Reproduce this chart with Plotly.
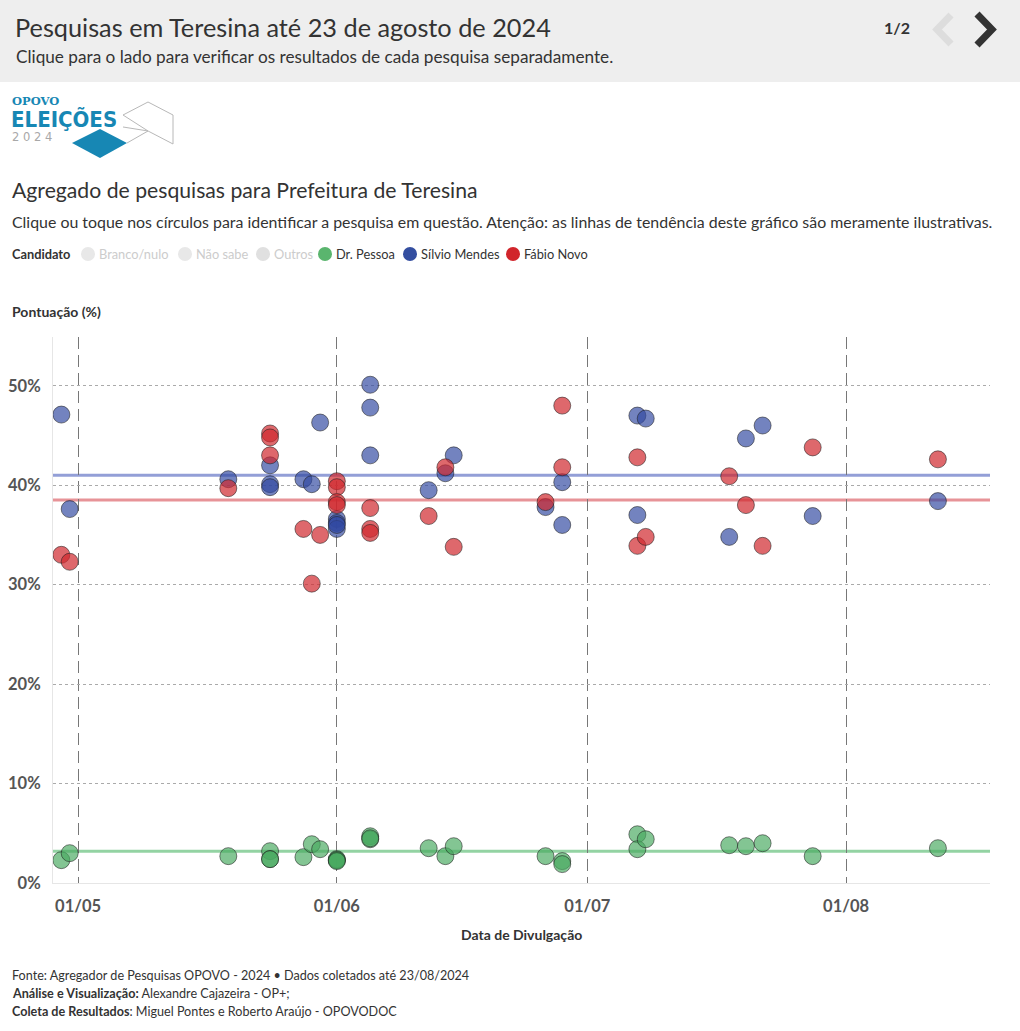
import plotly.graph_objects as go

# ---------------- DATA ----------------
dates = [
    "2024-04-29", "2024-04-30", "2024-05-19", "2024-05-24", "2024-05-24", "2024-05-24",
    "2024-05-28", "2024-05-29", "2024-05-30", "2024-06-01", "2024-06-01", "2024-06-01",
    "2024-06-01", "2024-06-05", "2024-06-05", "2024-06-05", "2024-06-12", "2024-06-14",
    "2024-06-15", "2024-06-26", "2024-06-28", "2024-06-28", "2024-07-07", "2024-07-07",
    "2024-07-08", "2024-07-18", "2024-07-20", "2024-07-22", "2024-07-28", "2024-08-12",
]
silvio_mendes = [
    47.1, 37.6, 40.6, 42.0, 40.1, 39.8,
    40.6, 40.1, 46.3, 36.6, 36.2, 35.6,
    36.0, 50.1, 47.8, 43.0, 39.5, 41.2,
    43.0, 37.8, 40.3, 36.0, 47.0, 37.0,
    46.7, 34.8, 44.7, 46.0, 36.9, 38.4,
]
fabio_novo = [
    33.0, 32.3, 39.7, 45.2, 44.8, 43.0,
    35.6, 30.1, 35.0, 40.4, 39.8, 38.3,
    38.0, 37.7, 35.6, 35.2, 36.9, 41.8,
    33.8, 38.3, 48.0, 41.8, 42.8, 33.9,
    34.8, 40.9, 38.0, 33.9, 43.8, 42.6,
]
dr_pessoa = [
    2.3, 3.0, 2.7, 3.2, 2.4, 2.4,
    2.6, 3.9, 3.4, 2.3, 2.4, 2.3,
    2.2, 4.7, 4.4, 4.5, 3.5, 2.7,
    3.7, 2.7, 2.2, 1.9, 4.9, 3.4,
    4.4, 3.8, 3.7, 4.0, 2.7, 3.5,
]
trend_names = ["Dr. Pessoa", "Sílvio Mendes", "Fábio Novo"]
trend_values = [3.2, 41.0, 38.5]

y_ticks = [0, 10, 20, 30, 40, 50]
y_tick_labels = ["0%", "10%", "20%", "30%", "40%", "50%"]
x_ticks = ["2024-05-01", "2024-06-01", "2024-07-01", "2024-08-01"]
x_tick_labels = ["01/05", "01/06", "01/07", "01/08"]
x_range = ["2024-04-28 00:00", "2024-08-18 05:45"]
y_range = [0, 54.9]

legend_names = ["Branco/nulo", "Não sabe", "Outros", "Dr. Pessoa", "Sílvio Mendes", "Fábio Novo"]

# ---------------- STYLE ----------------
FONT = "Lato, 'Noto Sans', sans-serif"
W_FIG, H_FIG = 1020, 1031
L, R, T, B = 53, 990, 337, 883
PW, PH = R - L, B - T


def px(x):
    return (x - L) / PW


def py(y):
    return (B - y) / PH


series = [
    ("Dr. Pessoa", dr_pessoa, "rgba(72,170,96,0.68)", "rgba(120,200,140,0.8)"),
    ("Sílvio Mendes", silvio_mendes, "rgba(48,72,160,0.68)", "rgba(120,135,205,0.8)"),
    ("Fábio Novo", fabio_novo, "rgba(208,40,46,0.7)", "rgba(225,120,126,0.8)"),
]

fig = go.Figure()
shapes = []
for (name, vals, col, tcol), tv in zip(series, trend_values):
    shapes.append(dict(type="line", xref="paper", yref="y", x0=0, x1=1, y0=tv, y1=tv,
                       line=dict(color=tcol, width=3), layer="below"))
for name, vals, col, tcol in series:
    fig.add_trace(go.Scatter(
        x=dates, y=vals, mode="markers", name=name,
        marker=dict(size=17, color=col, line=dict(color="rgba(30,30,30,0.55)", width=1)),
        showlegend=False,
        hovertemplate="%{x|%d/%m}: %{y}%<extra>" + name + "</extra>",
    ))

# header background
shapes.append(dict(type="rect", xref="paper", yref="paper", x0=px(0), x1=px(W_FIG),
                   y0=py(82), y1=py(0), fillcolor="#eeeeee", line=dict(width=0), layer="below"))


def path(points):
    return "M" + " L".join(f"{px(x):.5f},{py(y):.5f}" for x, y in points)


# chevrons
shapes.append(dict(type="path", xref="paper", yref="paper",
                   path=path([(951, 15), (937, 29.5), (951, 44)]),
                   line=dict(color="#dddddd", width=7)))
shapes.append(dict(type="path", xref="paper", yref="paper",
                   path=path([(977, 14), (992, 29.5), (977, 45)]),
                   line=dict(color="#333333", width=7)))

# logo shapes
shapes.append(dict(type="path", xref="paper", yref="paper",
                   path=path([(72, 143), (100, 129), (127, 143), (100, 158)]) + " Z",
                   fillcolor="#1787b4", line=dict(width=0)))
shapes.append(dict(type="path", xref="paper", yref="paper",
                   path=path([(123, 115), (148, 102), (173, 115), (173, 144), (148, 131), (123, 115)]),
                   line=dict(color="#b8b8b8", width=1)))
shapes.append(dict(type="path", xref="paper", yref="paper",
                   path=path([(123, 127), (148, 131)]),
                   line=dict(color="#b8b8b8", width=1)))
shapes.append(dict(type="path", xref="paper", yref="paper",
                   path=path([(127, 143), (148, 131)]),
                   line=dict(color="#b8b8b8", width=1)))

annotations = []


def text(x, y, s, size, color="#333333", anchor="left", family=FONT, weight=None):
    f = dict(size=size, color=color, family=family)
    if weight:
        f["weight"] = weight
    annotations.append(dict(xref="paper", yref="paper", x=px(x), y=py(y), text=s,
                            showarrow=False, xanchor=anchor, yanchor="middle",
                            font=f))


# header
text(13, 27, "Pesquisas em Teresina até 23 de agosto de 2024", 25.3)
text(14, 56, "Clique para o lado para verificar os resultados de cada pesquisa separadamente.", 17.2)
text(912, 27, "1/2", 16, anchor="right", weight=700)

# logo text
text(10, 101, "OPOVO", 11.5, color="#1787b4", family="'DejaVu Serif', serif", weight=700)
text(9, 119, "ELEIÇÕES", 22, color="#1787b4", family="'DejaVu Sans Condensed', 'DejaVu Sans', sans-serif", weight=700)
text(10, 137.5, "2 0 2 4", 11.5, color="#a8a8a8", family="'DejaVu Sans', sans-serif")

# titles
text(10, 190, "Agregado de pesquisas para Prefeitura de Teresina", 21.2)
text(10, 221, "Clique ou toque nos círculos para identificar a pesquisa em questão. Atenção: as linhas de tendência deste gráfico são meramente ilustrativas.", 15.9)

# legend
text(10, 254, "Candidato", 12.8, weight=700)
leg_x = [88, 185, 263, 325, 410, 513]
leg_col = ["#e8e8e8", "#e8e8e8", "#e0e0e0", "#5ab56e", "#344ea0", "#d1252b"]
leg_txt = ["#cccccc", "#cccccc", "#cccccc", "#333333", "#333333", "#333333"]
for name, xc, c, tc in zip(legend_names, leg_x, leg_col, leg_txt):
    shapes.append(dict(type="circle", xref="paper", yref="paper",
                       x0=px(xc - 7), x1=px(xc + 7), y0=py(261), y1=py(247),
                       fillcolor=c, line=dict(width=0)))
    text(xc + 9, 254, name, 12.8, color=tc)

# axis titles
text(10, 311, "Pontuação (%)", 14, weight=700)
text(521, 934, "Data de Divulgação", 14, anchor="center", weight=700)

# footer
text(10, 975, "Fonte: Agregador de Pesquisas OPOVO - 2024 • Dados coletados até 23/08/2024", 12.6)
text(10, 993, "<b>Análise e Visualização:</b> Alexandre Cajazeira - OP+;", 12.6)
text(10, 1011, "<b>Coleta de Resultados</b>: Miguel Pontes e Roberto Araújo - OPOVODOC", 12.6)

fig.update_layout(
    width=W_FIG, height=H_FIG,
    margin=dict(l=L, r=W_FIG - R, t=T, b=H_FIG - B, pad=0, autoexpand=False),
    paper_bgcolor="white", plot_bgcolor="white",
    font=dict(family=FONT, color="#333333"),
    shapes=shapes, annotations=annotations,
    showlegend=False,
    xaxis=dict(type="date", range=x_range, tickvals=x_ticks, ticktext=x_tick_labels,
               showgrid=True, gridcolor="#777777", griddash="12px,6px", gridwidth=1,
               showline=True, linecolor="#e6e6e6", linewidth=1, zeroline=False,
               ticks="", ticklabelstandoff=8, automargin=False,
               tickfont=dict(size=16.5, color="#555555", weight=700), fixedrange=True),
    yaxis=dict(range=y_range, tickvals=y_ticks, ticktext=y_tick_labels,
               showgrid=True, gridcolor="#aaaaaa", griddash="3px,3px", gridwidth=1,
               showline=True, linecolor="#e6e6e6", linewidth=1, zeroline=False,
               ticks="", ticklabelstandoff=8, automargin=False,
               tickfont=dict(size=16.5, color="#555555", weight=700), fixedrange=True),
)

fig.write_html("out.html", post_script="document.body.style.margin='0';document.body.style.overflow='hidden';",
               config={"displayModeBar": False})
